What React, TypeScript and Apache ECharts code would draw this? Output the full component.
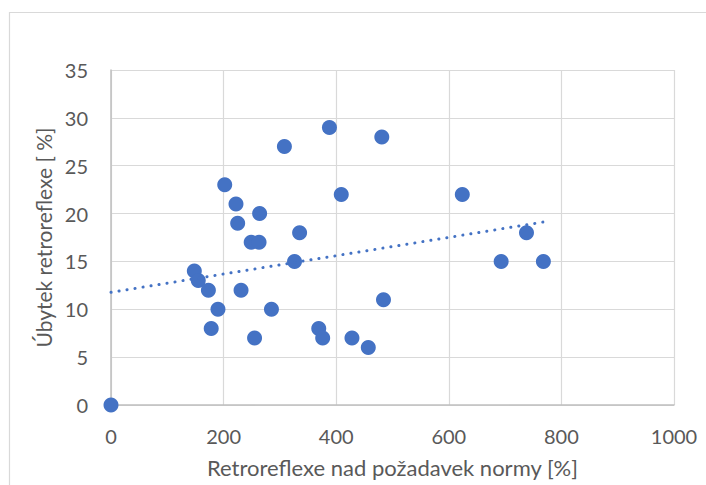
import React, { useEffect, useRef } from "react";
import * as echarts from "echarts";

const xValues = [308, 388, 481, 202, 222, 409, 264, 225, 335, 249, 263, 326, 148, 155, 173, 231, 190, 285, 178, 255, 369, 376, 428, 457, 484, 0, 624, 693, 768, 738];
const yValues = [27, 29, 28, 23, 21, 22, 20, 19, 18, 17, 17, 15, 14, 13, 12, 12, 10, 10, 8, 7, 8, 7, 7, 6, 11, 0, 22, 15, 15, 18];
const xTicks = [0, 200, 400, 600, 800, 1000];
const yTicks = [0, 5, 10, 15, 20, 25, 30, 35];

const xTitle = "Retroreflexe nad požadavek normy [%]";
const yTitle = "Úbytek retroreflexe [ %]";

function linearFit(xs: number[], ys: number[]) {
  const n = xs.length;
  let sx = 0, sy = 0, sxx = 0, sxy = 0;
  for (let i = 0; i < n; i++) {
    sx += xs[i]; sy += ys[i]; sxx += xs[i] * xs[i]; sxy += xs[i] * ys[i];
  }
  const slope = (n * sxy - sx * sy) / (n * sxx - sx * sx);
  const intercept = (sy - slope * sx) / n;
  return { slope, intercept };
}

export default function App() {
  const ref = useRef<HTMLDivElement>(null);
  useEffect(() => {
    if (!ref.current) return;
    const chart = echarts.init(ref.current, null, { renderer: "svg" });
    const fit = linearFit(xValues, yValues);
    const minX = Math.min(...xValues);
    const maxX = Math.max(...xValues);
    const trend = [
      [minX, fit.intercept + fit.slope * minX],
      [maxX, fit.intercept + fit.slope * maxX],
    ];
    const font = "Lato, 'Noto Sans', sans-serif";
    chart.setOption({
      animation: false,
      backgroundColor: "#ffffff",
      textStyle: { fontFamily: font },
      graphic: [
        {
          type: "rect",
          shape: { x: 9.5, y: 12.5, width: 720, height: 500 },
          style: { fill: "none", stroke: "#d9d9d9", lineWidth: 1.2 },
          silent: true,
        },
      ],
      grid: { left: 111, right: 32, top: 70, bottom: 80, outerBoundsMode: "none", containLabel: false },
      xAxis: {
        type: "value",
        min: xTicks[0],
        max: xTicks[xTicks.length - 1],
        interval: xTicks[1] - xTicks[0],
        name: xTitle,
        nameLocation: "middle",
        nameGap: 51,
        nameTextStyle: { color: "#595959", fontSize: 22, fontFamily: font },
        axisLine: { show: true, lineStyle: { color: "#bfbfbf", width: 1.5 } },
        axisTick: { show: false },
        axisLabel: { color: "#595959", fontSize: 20, margin: 21, fontFamily: font, formatter: (v: number) => String(v) },
        splitLine: { show: true, lineStyle: { color: "#d9d9d9", width: 1.2 } },
      },
      yAxis: {
        type: "value",
        min: yTicks[0],
        max: yTicks[yTicks.length - 1],
        interval: yTicks[1] - yTicks[0],
        name: yTitle,
        nameLocation: "middle",
        nameGap: 57,
        nameTextStyle: { color: "#595959", fontSize: 21, fontFamily: font },
        axisLine: { show: true, lineStyle: { color: "#bfbfbf", width: 1.5 } },
        axisTick: { show: false },
        axisLabel: { color: "#595959", fontSize: 20, margin: 23, fontFamily: font, formatter: (v: number) => String(v) },
        splitLine: { show: true, lineStyle: { color: "#d9d9d9", width: 1.2 } },
      },
      series: [
        {
          type: "line",
          data: trend,
          showSymbol: false,
          symbol: "none",
          lineStyle: { color: "#4472C4", width: 3, type: [0.1, 8], cap: "round" },
          z: 3,
          silent: true,
        },
        {
          type: "scatter",
          data: xValues.map((x, i) => [x, yValues[i]]),
          symbolSize: 15,
          itemStyle: { color: "#4472C4", opacity: 1 },
          z: 2,
        },
      ],
    });
    return () => chart.dispose();
  }, []);
  return (
    <div
      ref={ref}
      style={{ position: "fixed", left: 0, top: 0, width: 706, height: 485 }}
    />
  );
}
